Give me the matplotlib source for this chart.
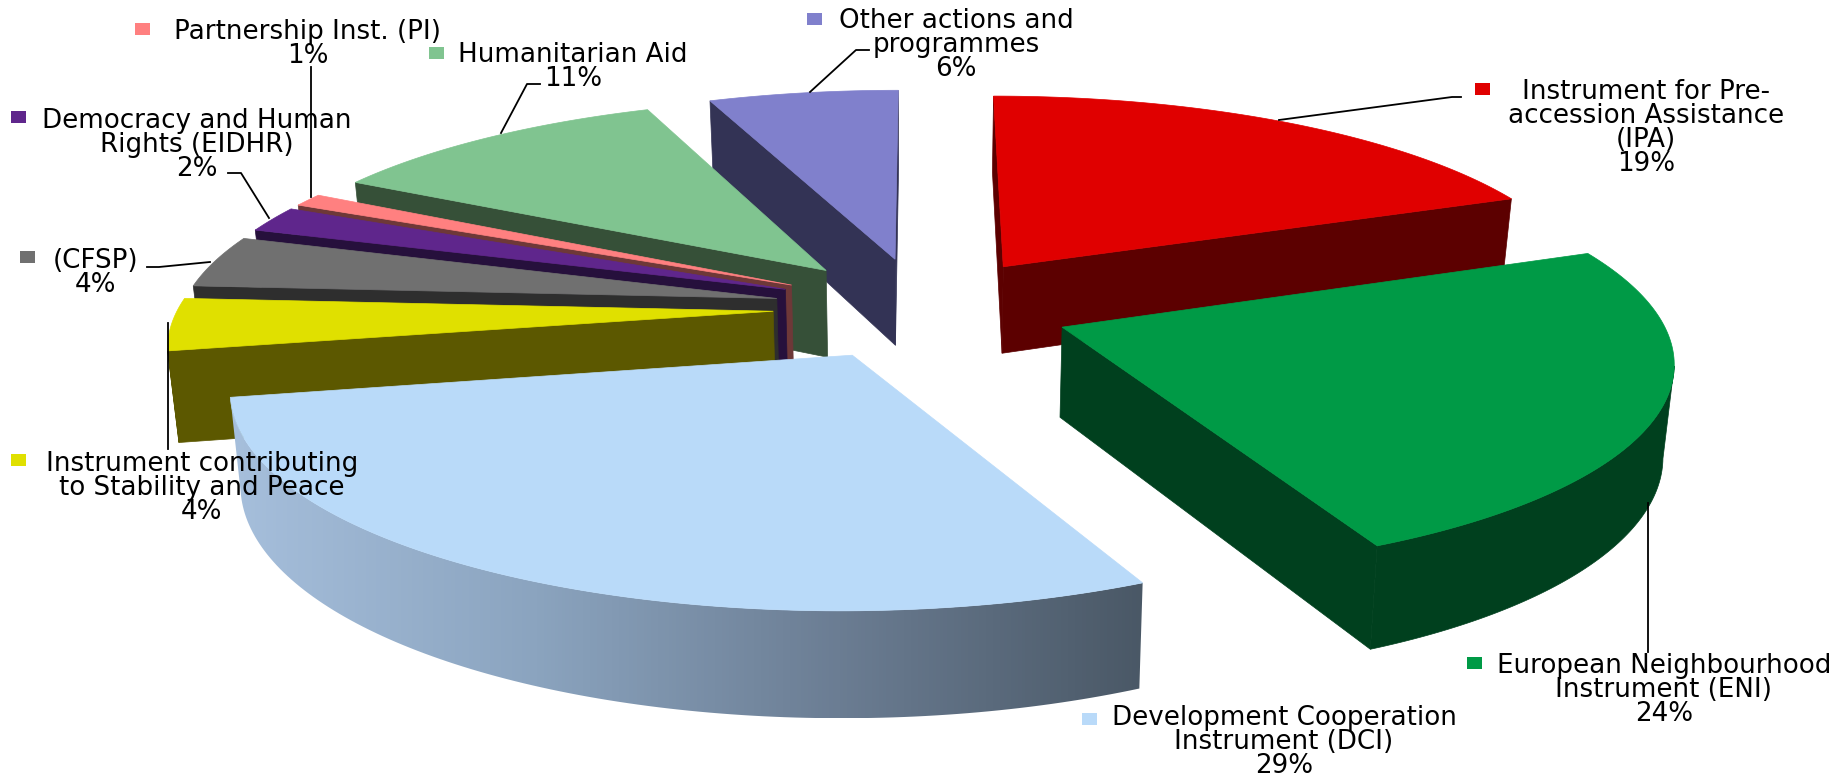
import numpy as np
import matplotlib
matplotlib.use("Agg")
import matplotlib.pyplot as plt
from matplotlib.colors import LinearSegmentedColormap
from matplotlib.patches import Polygon, Rectangle

# shares in %, clockwise from 12 o'clock
names = ["Instrument for Pre-\naccession Assistance\n(IPA)",
         "European Neighbourhood\nInstrument (ENI)",
         "Development Cooperation\nInstrument (DCI)",
         "Instrument contributing\nto Stability and Peace",
         "(CFSP)",
         "Democracy and Human\nRights (EIDHR)",
         "Partnership Inst. (PI)",
         "Humanitarian Aid",
         "Other actions and\nprogrammes"]
shares = [19, 24, 29, 4, 4, 2, 1, 11, 6]
top_colors = ["#e00000", "#009a46", "#b9daf9", "#e0e000", "#707070",
              "#5f268c", "#ff8080", "#80c490", "#8080cc"]
wall_colors = ["#5c0000", "#00401e", "#a6bfdc", "#5c5800", "#2e2e2e",
               "#26103c", "#6e3838", "#365038", "#333355"]

# camera of the fake 3D pie (pixels)
cx, cy = 922, 308
R = 595
tilt = 0.345
persp = 0.14
H = 89
explode = 0.25

# label block centre and legend key, in pixels
label_pos = [(1646, 128), (1664, 690), (1284, 742), (202, 488), (96, 273),
             (197, 145), (308, 44), (573, 67), (956, 45)]
key_pos = [(1483, 89), (1475, 663), (1090, 719), (19, 460), (28, 257),
           (19, 117), (143, 29), (437, 53), (815, 19)]

plt.rcParams["font.family"] = "DejaVu Sans"
fig = plt.figure(figsize=(18.41, 7.78), dpi=100)
ax = fig.add_axes([0, 0, 1, 1])
ax.axis("off")

shade = LinearSegmentedColormap.from_list("shade", ["#a6bfdc", "#8ba4bf", "#6b7d93", "#4a5866"])


def project(x, y, z=0.0):
    s = 1 / (1 + persp * y)
    sx = cx + R * x * s * (1 - 0.015 * z)
    sy = cy - R * tilt * y * s + H * s * z
    return np.column_stack([sx, sy])


def area(p):
    x, y = p[:, 0], p[:, 1]
    return 0.5 * np.sum(x * np.roll(y, -1) - np.roll(x, -1) * y)


def draw_slice(a0, a1, top, wall, gradient=False):
    mid = (a0 + a1) / 2
    ex, ey = explode * np.sin(mid), explode * np.cos(mid)
    ang = np.linspace(a0, a1, 120)
    ox, oy = ex + np.sin(ang), ey + np.cos(ang)

    tip_t = project(np.array([ex]), np.array([ey]))
    tip_b = project(np.array([ex]), np.array([ey]), 1.0)
    rim_t = project(ox, oy)
    rim_b = project(ox, oy, 1.0)

    # radial walls, y axis points down so the signs are flipped
    start = np.vstack([tip_t, rim_t[0], rim_b[0], tip_b])
    end = np.vstack([tip_t, rim_t[-1], rim_b[-1], tip_b])
    if area(start) < 0:
        ax.add_patch(Polygon(start, fc=wall, ec=wall, lw=0.5))
    if area(end) > 0:
        ax.add_patch(Polygon(end, fc=wall, ec=wall, lw=0.5))

    # rim wall, only where the arc runs right to left on screen (faces us)
    front = np.gradient(rim_t[:, 0]) < 0
    if front.any():
        rim = np.vstack([rim_t[front], rim_b[front][::-1]])
        if gradient:
            patch = Polygon(rim, fc="none", ec="none")
            ax.add_patch(patch)
            x0, x1 = rim[:, 0].min(), rim[:, 0].max()
            y0, y1 = rim[:, 1].min(), rim[:, 1].max()
            im = ax.imshow(np.linspace(0, 1, 256)[None, :], cmap=shade, aspect="auto",
                           extent=(x0, x1, y1, y0), zorder=1)
            im.set_clip_path(patch)
        else:
            ax.add_patch(Polygon(rim, fc=wall, ec=wall, lw=0.5))

    ax.add_patch(Polygon(np.vstack([tip_t, rim_t]), fc=top, ec=top, lw=0.5, zorder=1.5))


edges = np.cumsum([0] + shares) / 100 * 2 * np.pi
mids = (edges[:-1] + edges[1:]) / 2
# far slices first
for i in np.argsort(-np.cos(mids)):
    draw_slice(edges[i], edges[i + 1], top_colors[i], wall_colors[i], gradient=(i == 2))

ax.set_xlim(0, 1841)
ax.set_ylim(778, 0)

# leader lines
leaders = [
    [(1461, 97), (1452, 97), (1279, 120)],
    [(1648, 503), (1648, 652)],
    [(168, 323), (168, 449)],
    [(147, 267), (159, 267), (210, 262)],
    [(228, 173), (241, 173), (269, 218)],
    [(311, 67), (311, 197)],
    [(540, 84), (527, 84), (501, 133)],
    [(869, 50), (856, 50), (810, 92)],
]
for pts in leaders:
    ax.plot(*zip(*pts), color="black", lw=1.3, zorder=5)

for i in range(len(names)):
    ax.text(label_pos[i][0], label_pos[i][1], names[i] + "\n%d%%" % shares[i],
            ha="center", va="center", fontsize=18.8, linespacing=0.91, color="black", zorder=6)
    ax.add_patch(Rectangle((key_pos[i][0] - 8, key_pos[i][1] - 6), 15, 12,
                           fc=top_colors[i], ec="none", zorder=6))

fig.savefig("out.png", dpi=100)
